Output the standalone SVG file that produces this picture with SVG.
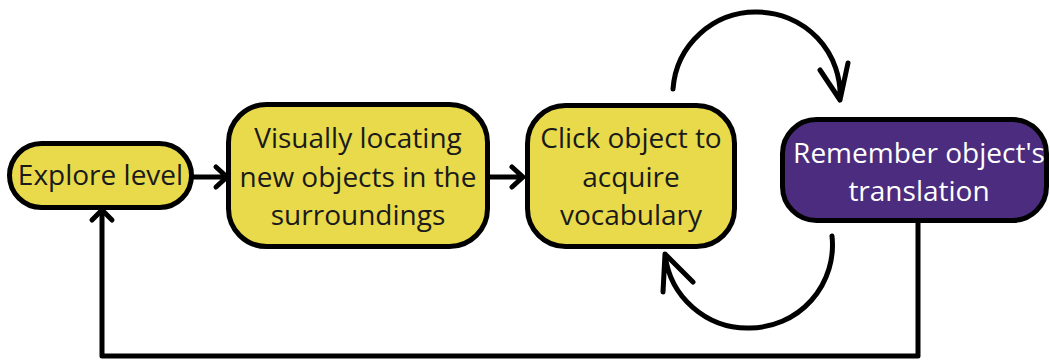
<svg xmlns="http://www.w3.org/2000/svg" width="1050" height="362" viewBox="0 0 1050 362">
  <defs>
    <style>
      .box { stroke: #000; stroke-width: 5; }
      .yellow { fill: #e9da4b; }
      .purple { fill: #4b2c7e; }
      .label { font-family: "Open Sans", "Liberation Sans", sans-serif; font-size: 28px; text-anchor: middle; }
      .dark { fill: #1a1a1a; }
      .light { fill: #ffffff; }
      .wire { fill: none; stroke: #000; stroke-width: 5; stroke-linecap: round; stroke-linejoin: round; }
    </style>
  </defs>
  <rect width="1050" height="362" fill="#ffffff"/>

  <g id="connectors">
    <!-- Explore level -> Visually locating -->
    <path class="wire" d="M192 177 H226 M216 167 L227 177 L216 187"/>
    <!-- Visually locating -> Click object -->
    <path class="wire" d="M488 177 H522 M512 167 L523 177 L512 187"/>
    <!-- loop back from Remember to Explore level -->
    <path class="wire" d="M918 220 V356 H102 V210" stroke-linecap="butt"/>
    <path class="wire" d="M92 220 L102 210 L112 220"/>
    <!-- upper arc: Click object -> Remember -->
    <path class="wire" d="M673 89 A83 83 0 0 1 757 12 A83 83 0 0 1 840 100 M820 70 L840 100 L848 63"/>
    <!-- lower arc: Remember -> Click object -->
    <path class="wire" d="M832 236 A83 83 0 0 1 750 328 A83 83 0 0 1 665 254 M663 292 L665 254 L693 282"/>
  </g>

  <g id="node-explore">
    <rect class="box yellow" x="9.5" y="143.5" width="182" height="64" rx="32"/>
    <text class="label dark" x="100.5" y="185">Explore level</text>
  </g>

  <g id="node-locate">
    <rect class="box yellow" x="228.5" y="104.5" width="259" height="142" rx="38"/>
    <text class="label dark" x="358" y="148">Visually locating</text>
    <text class="label dark" x="358" y="187">new objects in the</text>
    <text class="label dark" x="358" y="225">surroundings</text>
  </g>

  <g id="node-click">
    <rect class="box yellow" x="527.5" y="105.5" width="207" height="141" rx="38"/>
    <text class="label dark" x="631" y="148">Click object to</text>
    <text class="label dark" x="631" y="187">acquire</text>
    <text class="label dark" x="631" y="225">vocabulary</text>
  </g>

  <g id="node-remember">
    <rect class="box purple" x="782.5" y="119.5" width="264" height="101" rx="34"/>
    <text class="label light" x="919" y="163">Remember object's</text>
    <text class="label light" x="919" y="201">translation</text>
  </g>
</svg>
